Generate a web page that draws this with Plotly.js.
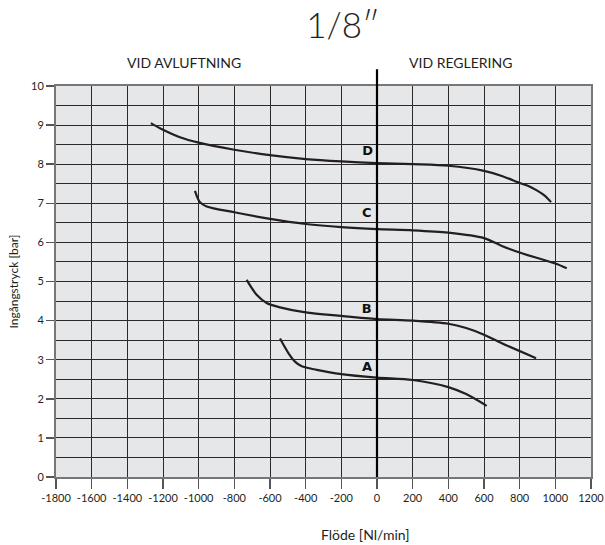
<!DOCTYPE html>
<html>
<head>
<meta charset="utf-8">
<script src="https://cdn.plot.ly/plotly-3.0.1.min.js"></script>
<style>html,body{margin:0;padding:0;background:#fff;}#chart{width:605px;height:545px;}</style>
</head>
<body>
<div id="chart"></div>
<script>
// Curve data (Flöde [Nl/min], Ingångstryck [bar])
const curveA_x = [-544, -497, -460, -422, -338, -200, 0, 200, 400, 500, 615];
const curveA_y = [3.54, 3.17, 2.95, 2.83, 2.74, 2.63, 2.54, 2.48, 2.30, 2.12, 1.82];

const curveB_x = [-731, -675, -619, -544, -400, -200, 0, 200, 400, 500, 600, 700, 892];
const curveB_y = [5.04, 4.66, 4.45, 4.34, 4.21, 4.12, 4.04, 4.00, 3.92, 3.81, 3.64, 3.42, 3.04];

const curveC_x = [-1021, -993, -955, -800, -600, -400, -200, 0, 200, 400, 600, 700, 800, 1000, 1064];
const curveC_y = [7.32, 7.03, 6.92, 6.77, 6.60, 6.47, 6.39, 6.34, 6.31, 6.25, 6.11, 5.91, 5.74, 5.46, 5.34];

const curveD_x = [-1268, -1217, -1105, -1000, -800, -600, -400, -200, 0, 200, 400, 600, 700, 800, 849, 896, 942, 976];
const curveD_y = [9.05, 8.92, 8.69, 8.55, 8.37, 8.23, 8.13, 8.07, 8.03, 8.00, 7.96, 7.83, 7.70, 7.52, 7.44, 7.33, 7.19, 7.03];

const curveNames = ["A", "B", "C", "D"];
const labelX = [-56, -58, -58, -52];
const labelY = [2.80, 4.27, 6.74, 8.32];

const xTickVals = [-1800, -1600, -1400, -1200, -1000, -800, -600, -400, -200, 0, 200, 400, 600, 800, 1000, 1200];
const xTickText = ["-1800", "-1600", "-1400", "-1200", "-1000", "-800", "-600", "-400", "-200", "0", "200", "400", "600", "800", "1000", "1200"];
const yTickVals = [0, 1, 2, 3, 4, 5, 6, 7, 8, 9, 10];

const chartTitle = "1/8″";
const leftLabel = "VID AVLUFTNING";
const rightLabel = "VID REGLERING";
const xTitle = "Flöde [Nl/min]";
const yTitle = "Ingångstryck [bar]";

const FONT = "Lato, 'Open Sans', sans-serif";
const TXT = "#231f20";
const lineStyle = {color: TXT, width: 2.2, shape: "spline", smoothing: 0.8};

const xs = [curveA_x, curveB_x, curveC_x, curveD_x];
const ys = [curveA_y, curveB_y, curveC_y, curveD_y];
const traces = xs.map((x, i) => ({
  type: "scatter", mode: "lines", x: x, y: ys[i], name: curveNames[i],
  line: lineStyle, hoverinfo: "skip", showlegend: false
}));
traces.push({
  type: "scatter", mode: "text", x: labelX, y: labelY, text: curveNames,
  textposition: "middle center",
  textfont: {family: "'DejaVu Sans', Arial, sans-serif", size: 13, color: "#111", weight: "bold"},
  hoverinfo: "skip", showlegend: false
});

const gridColor = "#2a2a2a";
const txtFont = (s, w) => ({family: FONT, size: s, color: TXT, weight: w || 400});
const layout = {
  width: 605, height: 545,
  margin: {l: 56, r: 14, t: 86, b: 68},
  paper_bgcolor: "#ffffff",
  plot_bgcolor: "#e6e7e8",
  font: {family: FONT, color: TXT},
  title: {
    text: chartTitle, font: txtFont(35, 300),
    x: 343 / 605, xref: "container", xanchor: "center",
    y: 1 - 26 / 545, yref: "container", yanchor: "middle"
  },
  xaxis: {
    range: [-1800, 1200], tickmode: "array", tickvals: xTickVals, ticktext: xTickText,
    showgrid: true, gridcolor: gridColor, gridwidth: 1,
    zeroline: false,
    ticks: "outside", ticklen: 10, tickcolor: "#555", tickwidth: 1.5,
    showline: true, mirror: true, linecolor: "#777", linewidth: 2,
    tickfont: txtFont(11),
    fixedrange: true
  },
  yaxis: {
    range: [0, 10], tickmode: "array", tickvals: yTickVals,
    showgrid: true, gridcolor: gridColor, gridwidth: 1,
    minor: {dtick: 0.5, showgrid: true, gridcolor: gridColor, gridwidth: 1, ticks: ""},
    zeroline: false,
    ticks: "outside", ticklen: 8, tickcolor: "#555", tickwidth: 1.5,
    showline: true, mirror: true, linecolor: "#777", linewidth: 2,
    tickfont: txtFont(11),
    title: {text: yTitle, font: txtFont(12), standoff: 10},
    fixedrange: true
  },
  shapes: [{
    type: "line", xref: "x", yref: "paper", x0: 0, x1: 0, y0: 0, y1: 1.043,
    line: {color: "#000", width: 2.2}
  }],
  annotations: [
    {text: leftLabel, xref: "paper", yref: "paper", x: 0.239, y: 1.059, showarrow: false,
     xanchor: "center", yanchor: "middle", font: txtFont(14)},
    {text: rightLabel, xref: "paper", yref: "paper", x: 0.757, y: 1.059, showarrow: false,
     xanchor: "center", yanchor: "middle", font: txtFont(14)},
    {text: xTitle, xref: "paper", yref: "paper", x: 0.578, y: -0.148, showarrow: false,
     xanchor: "center", yanchor: "middle", font: txtFont(14)}
  ]
};

Plotly.newPlot("chart", traces, layout, {staticPlot: true, displayModeBar: false});
</script>
</body>
</html>
